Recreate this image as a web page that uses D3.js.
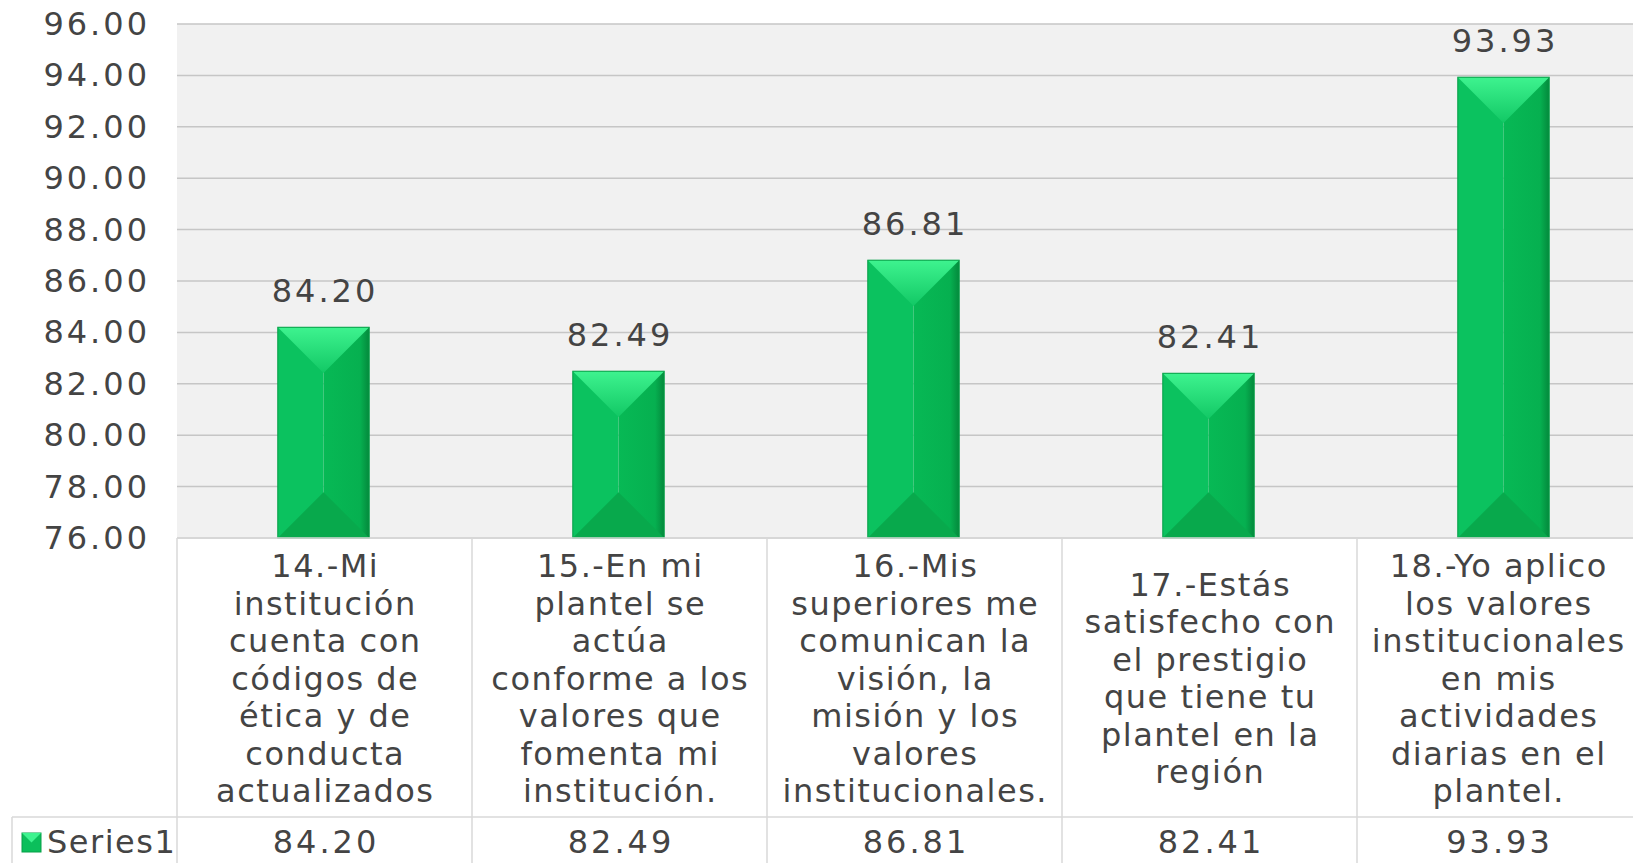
<!DOCTYPE html>
<html><head><meta charset="utf-8">
<script src="https://cdn.jsdelivr.net/npm/d3@7"></script>
<style>
html,body{margin:0;padding:0;background:#fff;overflow:hidden;}
svg text{font-family:"DejaVu Sans",sans-serif;fill:#444;letter-spacing:1.5px;}
svg text.num{letter-spacing:3px;}
</style></head>
<body><svg id="c" width="1633" height="863"></svg>
<script>
const categories = [
  ["14.-Mi","institución","cuenta con","códigos de","ética y de","conducta","actualizados"],
  ["15.-En mi","plantel se","actúa","conforme a los","valores que","fomenta mi","institución."],
  ["16.-Mis","superiores me","comunican la","visión, la","misión y los","valores","institucionales."],
  ["17.-Estás","satisfecho con","el prestigio","que tiene tu","plantel en la","región"],
  ["18.-Yo aplico","los valores","institucionales","en mis","actividades","diarias en el","plantel."]
];
const values = [84.20, 82.49, 86.81, 82.41, 93.93];
const yTicks = [76,78,80,82,84,86,88,90,92,94,96];
const seriesName = "Series1";

const W = 1633, H = 863;
const svg = d3.select("#c");
const plotLeft = 177, colW = 295, plotTop = 24, plotBottom = 538, headerBottom = 817;
const idx = d3.range(values.length);
const x = d3.scaleBand().domain(idx).range([plotLeft, plotLeft + colW * values.length]).padding(0);
const y = d3.scaleLinear().domain([76, 96]).range([plotBottom, plotTop]);
const fmt = d3.format(".2f");
// table cell centre (the last cell is clipped at the chart edge)
const cellCx = i => (x(i) + Math.min(x(i) + x.bandwidth(), W + 6)) / 2;

// plot background
svg.append("rect").attr("x", plotLeft).attr("y", plotTop).attr("width", x.range()[1] - plotLeft).attr("height", plotBottom - plotTop).attr("fill", "#f1f1f1");

// gridlines
svg.append("g").selectAll("line").data(yTicks).join("line")
  .attr("x1", plotLeft).attr("x2", x.range()[1])
  .attr("y1", d => y(d)).attr("y2", d => y(d))
  .attr("stroke", "#c6c6c6").attr("stroke-width", 1.5);

// y tick labels
svg.append("g").selectAll("text").data(yTicks).join("text").attr("class", "num")
  .attr("x", 150).attr("y", d => y(d)).attr("text-anchor", "end")
  .attr("dominant-baseline", "central").attr("font-size", 32).text(d => fmt(d));

// gradients
const defs = svg.append("defs");
const gTop = defs.append("linearGradient").attr("id", "gTop").attr("x1", 0).attr("y1", 0).attr("x2", 0).attr("y2", 1);
gTop.append("stop").attr("offset", "0%").attr("stop-color", "#3ef38f");
gTop.append("stop").attr("offset", "100%").attr("stop-color", "#12c865");
const gRight = defs.append("linearGradient").attr("id", "gRight").attr("x1", 0).attr("y1", 0).attr("x2", 1).attr("y2", 0);
gRight.append("stop").attr("offset", "0%").attr("stop-color", "#07b955");
gRight.append("stop").attr("offset", "80%").attr("stop-color", "#06b050");
gRight.append("stop").attr("offset", "100%").attr("stop-color", "#04893c");

// bars
const bw = x.bandwidth() * 0.31;
const bars = svg.append("g").selectAll("g").data(idx).join("g");
bars.each(function(i) {
  const g = d3.select(this);
  const cx = x(i) + x.bandwidth() / 2 - 1;
  const x0 = cx - bw / 2, x1 = cx + bw / 2;
  const yt = y(values[i]), yb = y(76);
  const h = bw / 2;
  g.append("polygon").attr("points", [[x0, yt], [cx, yt], [cx, yb], [x0, yb]].join(" ")).attr("fill", "#0bc25f");
  g.append("polygon").attr("points", [[cx, yt], [x1, yt], [x1, yb], [cx, yb]].join(" ")).attr("fill", "url(#gRight)");
  g.append("polygon").attr("points", [[x0, yt], [x1, yt], [cx, yt + h]].join(" ")).attr("fill", "url(#gTop)");
  g.append("polygon").attr("points", [[x0, yb], [x1, yb], [cx, yb - h]].join(" ")).attr("fill", "#08a94c");
  g.append("rect").attr("x", x0).attr("y", yt).attr("width", bw).attr("height", yb - yt)
    .attr("fill", "none").attr("stroke", "#06a047").attr("stroke-width", 1);
  g.append("text").attr("class", "num").attr("x", cx + 1.5).attr("y", yt - 25).attr("text-anchor", "middle")
    .attr("font-size", 32).text(fmt(values[i]));
});

// table lines
const tbl = svg.append("g").attr("stroke", "#d9d9d9").attr("stroke-width", 1.5);
tbl.append("line").attr("x1", plotLeft).attr("x2", x.range()[1]).attr("y1", plotBottom).attr("y2", plotBottom);
tbl.append("line").attr("x1", 12).attr("x2", x.range()[1]).attr("y1", headerBottom).attr("y2", headerBottom);
tbl.append("line").attr("x1", 12).attr("x2", 12).attr("y1", headerBottom).attr("y2", H);
tbl.selectAll("line.v").data(d3.range(values.length + 1)).join("line").attr("class", "v")
  .attr("x1", d => plotLeft + d * colW).attr("x2", d => plotLeft + d * colW)
  .attr("y1", plotBottom).attr("y2", H);

// category labels
const lh = 37.5, midY = (plotBottom + headerBottom) / 2 + 1;
svg.append("g").selectAll("g").data(idx).join("g").each(function(i) {
  const lines = categories[i];
  const cx = cellCx(i) + 0.75;
  const y0 = midY - (lines.length - 1) / 2 * lh;
  d3.select(this).selectAll("text").data(lines).join("text")
    .attr("x", cx).attr("y", (d, k) => y0 + k * lh).attr("text-anchor", "middle")
    .attr("dominant-baseline", "central").attr("font-size", 32).text(d => d);
});

// data row
svg.append("g").selectAll("text").data(idx).join("text").attr("class", "num")
  .attr("x", i => cellCx(i) + 1.5).attr("y", 842).attr("text-anchor", "middle")
  .attr("dominant-baseline", "central").attr("font-size", 32).text(i => fmt(values[i]));

// legend key
svg.append("rect").attr("x", 22).attr("y", 833).attr("width", 19).attr("height", 19).attr("fill", "#0bbf5b").attr("stroke", "#07a048");
svg.append("polygon").attr("points", "22,833 41,833 31.5,842.5").attr("fill", "#3ef38f");
svg.append("text").attr("x", 47).attr("y", 842).attr("dominant-baseline", "central").attr("font-size", 32).text(seriesName);
</script></body></html>
